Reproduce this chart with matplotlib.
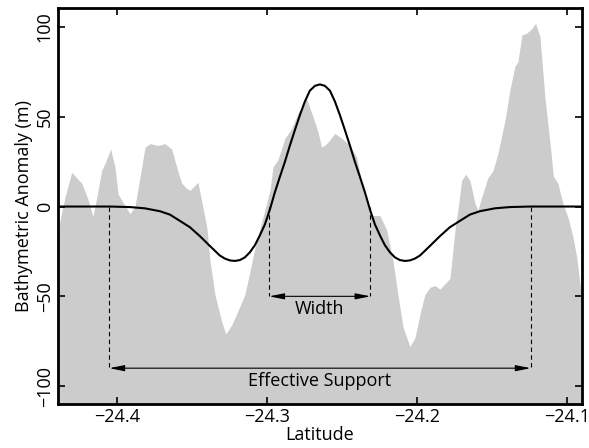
import matplotlib.pyplot as plt
import numpy as np

# Bathymetry profile (grey area)
bathy_lat = [-24.4393, -24.4347, -24.4302, -24.4235, -24.4193, -24.416, -24.4135, -24.4102,
             -24.408, -24.4042, -24.4013, -24.3993, -24.396, -24.3913, -24.388, -24.3847,
             -24.3813, -24.378, -24.3727, -24.368, -24.3635, -24.3602, -24.3569, -24.3535,
             -24.3513, -24.346, -24.3435, -24.34, -24.338, -24.3347, -24.3302, -24.3275,
             -24.3235, -24.3193, -24.3147, -24.3113, -24.308, -24.3027, -24.298, -24.296,
             -24.2927, -24.288, -24.2835, -24.2793, -24.2735, -24.2693, -24.266, -24.2635,
             -24.2602, -24.2547, -24.2502, -24.2447, -24.2402, -24.2353, -24.2309, -24.2247,
             -24.2202, -24.216, -24.2127, -24.2093, -24.2047, -24.2013, -24.198, -24.1947,
             -24.1913, -24.188, -24.1847, -24.1813, -24.178, -24.1765, -24.1742, -24.1727,
             -24.1702, -24.1675, -24.1647, -24.1613, -24.1593, -24.1569, -24.1527, -24.1493,
             -24.146, -24.1413, -24.138, -24.1347, -24.1327, -24.13, -24.1269, -24.1235,
             -24.1209, -24.118, -24.1147, -24.1107, -24.1091, -24.106, -24.1027, -24.0993,
             -24.096, -24.0935, -24.0913, -24.09]
bathy_val = [-13, 5, 19, 13, 4, -5.5, 5, 20,
             24, 32, 22, 7, 2.4, -4, 0, 16,
             33, 35, 34, 35, 32, 22, 13, 10,
             9, 13.5, 3, -12, -30, -49, -64, -71,
             -66, -58, -49, -36, -23, -6, 9, 22,
             26, 38, 43.5, 52, 60, 50, 41.5, 33,
             35, 40.7, 38, 34, 27.5, 7, -5, -5,
             -13, -30, -49, -67, -78, -73, -60, -49,
             -45, -44, -46, -43, -40, -28, -10, -2,
             14.5, 18, 14.5, 1.7, -2, 5, 16, 20,
             29.6, 48, 65, 78, 80.6, 95.5, 96.5, 99,
             102, 94.6, 61, 31, 17, 12.8, 1.7, -6,
             -17, -28, -43, -50]

# Model curve (black line)
model_lat = [-24.4393, -24.4047, -24.3914, -24.3814, -24.3714, -24.3647, -24.358, -24.3514,
             -24.3447, -24.338, -24.3314, -24.328, -24.3247, -24.3214, -24.318, -24.3147,
             -24.3114, -24.308, -24.3047, -24.3014, -24.298, -24.2947, -24.2914, -24.288,
             -24.2847, -24.2814, -24.278, -24.2747, -24.2714, -24.268, -24.2647, -24.2614,
             -24.258, -24.2547, -24.2514, -24.248, -24.2447, -24.2414, -24.238, -24.2347,
             -24.2314, -24.228, -24.2247, -24.2214, -24.218, -24.2147, -24.2114, -24.208,
             -24.2047, -24.2014, -24.198, -24.1914, -24.1847, -24.178, -24.1714, -24.1647,
             -24.158, -24.148, -24.138, -24.1247, -24.09]
model_val = [0, 0, -0.3, -1, -2.6, -4.5, -8, -11.5,
             -16.5, -22, -27.3, -29, -30, -30.3, -29.8, -28.3,
             -25.5, -21.5, -16, -10, -1.5, 8, 16.5, 25,
             34, 42.5, 51, 58.5, 64.5, 67.2, 68, 67.2,
             64.5, 58.5, 51, 42.5, 34, 25, 16.5, 8,
             -1.5, -10, -16, -21.5, -25.5, -28.3, -29.8, -30.3,
             -30, -29, -27.3, -22, -16.5, -11.5, -8, -4.5,
             -2.6, -1, -0.3, 0, 0]

# Annotation anchors
width_edges = [-24.2985, -24.231]
support_edges = [-24.4051, -24.1242]
width_level = -50
support_level = -90

plt.rcParams['font.family'] = ['Open Sans', 'DejaVu Sans']
fs = 13

fig = plt.figure(figsize=(5.89, 4.48), dpi=100)
ax = fig.add_axes([0.0985, 0.098, 0.8895, 0.884])

ax.fill_between(bathy_lat, bathy_val, -130, color='#cccccc', lw=0)
ax.plot(model_lat, model_val, color='black', lw=1.5, solid_joinstyle='round')

for x in width_edges:
    ax.plot([x, x], [0, width_level], color='black', lw=0.8, ls=(0, (4, 3)))
for x in support_edges:
    ax.plot([x, x], [0, support_level], color='black', lw=0.8, ls=(0, (4, 3)))

arrow = dict(arrowstyle='<|-|>,head_length=0.9,head_width=0.18', color='black', lw=0.8,
             shrinkA=0, shrinkB=0)
ax.annotate('', xy=(width_edges[0], width_level), xytext=(width_edges[1], width_level),
            arrowprops=arrow)
ax.annotate('', xy=(support_edges[0], support_level), xytext=(support_edges[1], support_level),
            arrowprops=arrow)
ax.text(np.mean(width_edges), width_level - 2, 'Width', ha='center', va='top', fontsize=fs)
ax.text(np.mean(support_edges), support_level - 2, 'Effective Support', ha='center', va='top',
        fontsize=fs)

ax.set_xlim(-24.4393, -24.09)
ax.set_ylim(-110, 110.5)
ax.set_xticks([-24.4, -24.3, -24.2, -24.1])
ax.set_yticks([-100, -50, 0, 50, 100])
ax.tick_params(direction='in', top=True, right=True, length=5, width=1.2, labelsize=fs, pad=3)
for lab in ax.get_yticklabels():
    lab.set_rotation(90)
    lab.set_va('center')
for s in ax.spines.values():
    s.set_linewidth(2)

ax.set_xlabel('Latitude', fontsize=fs, labelpad=0)
ax.set_ylabel('Bathymetric Anomaly (m)', fontsize=fs, labelpad=2)

fig.savefig('out.png', dpi=100)
